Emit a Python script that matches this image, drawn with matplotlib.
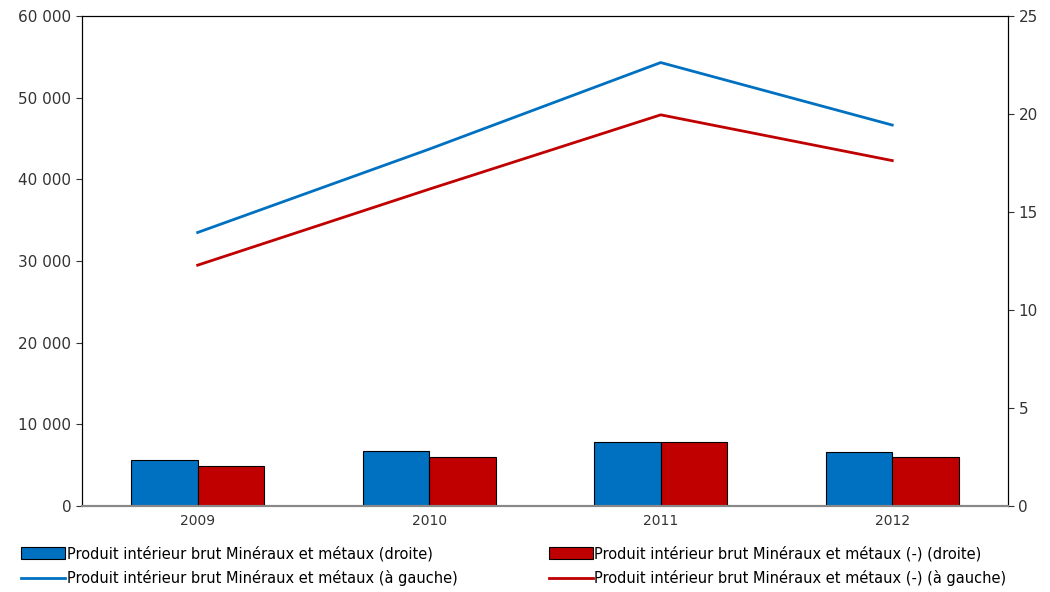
import numpy as np
import matplotlib.pyplot as plt
from matplotlib.ticker import FuncFormatter

years = ['2009', '2010', '2011', '2012']
pib_droite = [2.35, 2.8, 3.27, 2.75]
pib_moins_droite = [2.05, 2.5, 3.27, 2.5]
pib_gauche = [33500, 43700, 54300, 46650]
pib_moins_gauche = [29500, 38800, 47900, 42300]

lab_bar1 = 'Produit intérieur brut Minéraux et métaux (droite)'
lab_bar2 = 'Produit intérieur brut Minéraux et métaux (-) (droite)'
lab_line1 = 'Produit intérieur brut Minéraux et métaux (à gauche)'
lab_line2 = 'Produit intérieur brut Minéraux et métaux (-) (à gauche)'

blue = '#0070c0'
red = '#c00000'

plt.rcParams['font.family'] = ['DejaVu Sans']
fig = plt.figure(figsize=(10.5, 5.92), dpi=100)
ax = fig.add_axes([0.078, 0.145, 0.882, 0.828])
ax2 = ax.twinx()

x = np.arange(len(years))
w = 0.288
b1 = ax2.bar(x - w / 2, pib_droite, w, color=blue, edgecolor='black', linewidth=0.8, label=lab_bar1)
b2 = ax2.bar(x + w / 2, pib_moins_droite, w, color=red, edgecolor='black', linewidth=0.8, label=lab_bar2)
l1, = ax.plot(x, pib_gauche, color=blue, lw=2, label=lab_line1)
l2, = ax.plot(x, pib_moins_gauche, color=red, lw=2, label=lab_line2)

# lines drawn above bars
ax.set_zorder(ax2.get_zorder() + 1)
ax.patch.set_visible(False)

ax.set_xlim(-0.5, 3.5)
ax.set_ylim(0, 60000)
ax2.set_ylim(0, 25)
ax.set_yticks(np.arange(0, 60001, 10000))
ax2.set_yticks(np.arange(0, 26, 5))
ax.yaxis.set_major_formatter(FuncFormatter(lambda v, p: '{:,.0f}'.format(v).replace(',', ' ')))
ax.set_xticks(x)
ax.set_xticklabels(years)

for a in (ax, ax2):
    a.spines['bottom'].set_color('#888888')
    a.spines['bottom'].set_linewidth(1.5)
    a.tick_params(labelsize=11, colors='#333333', length=4)
ax.tick_params(axis='x', length=0, pad=6, labelsize=10)
ax2.tick_params(axis='x', length=0)

fig.legend(handles=[b1, l1, b2, l2], loc='lower left', bbox_to_anchor=(0.012, -0.005),
           ncol=2, frameon=False, fontsize=10.5, handlelength=3.0, handleheight=0.9,
           handletextpad=0.1, columnspacing=6.3, labelspacing=0.6, borderaxespad=0.2)

fig.savefig('out.png', dpi=100)
